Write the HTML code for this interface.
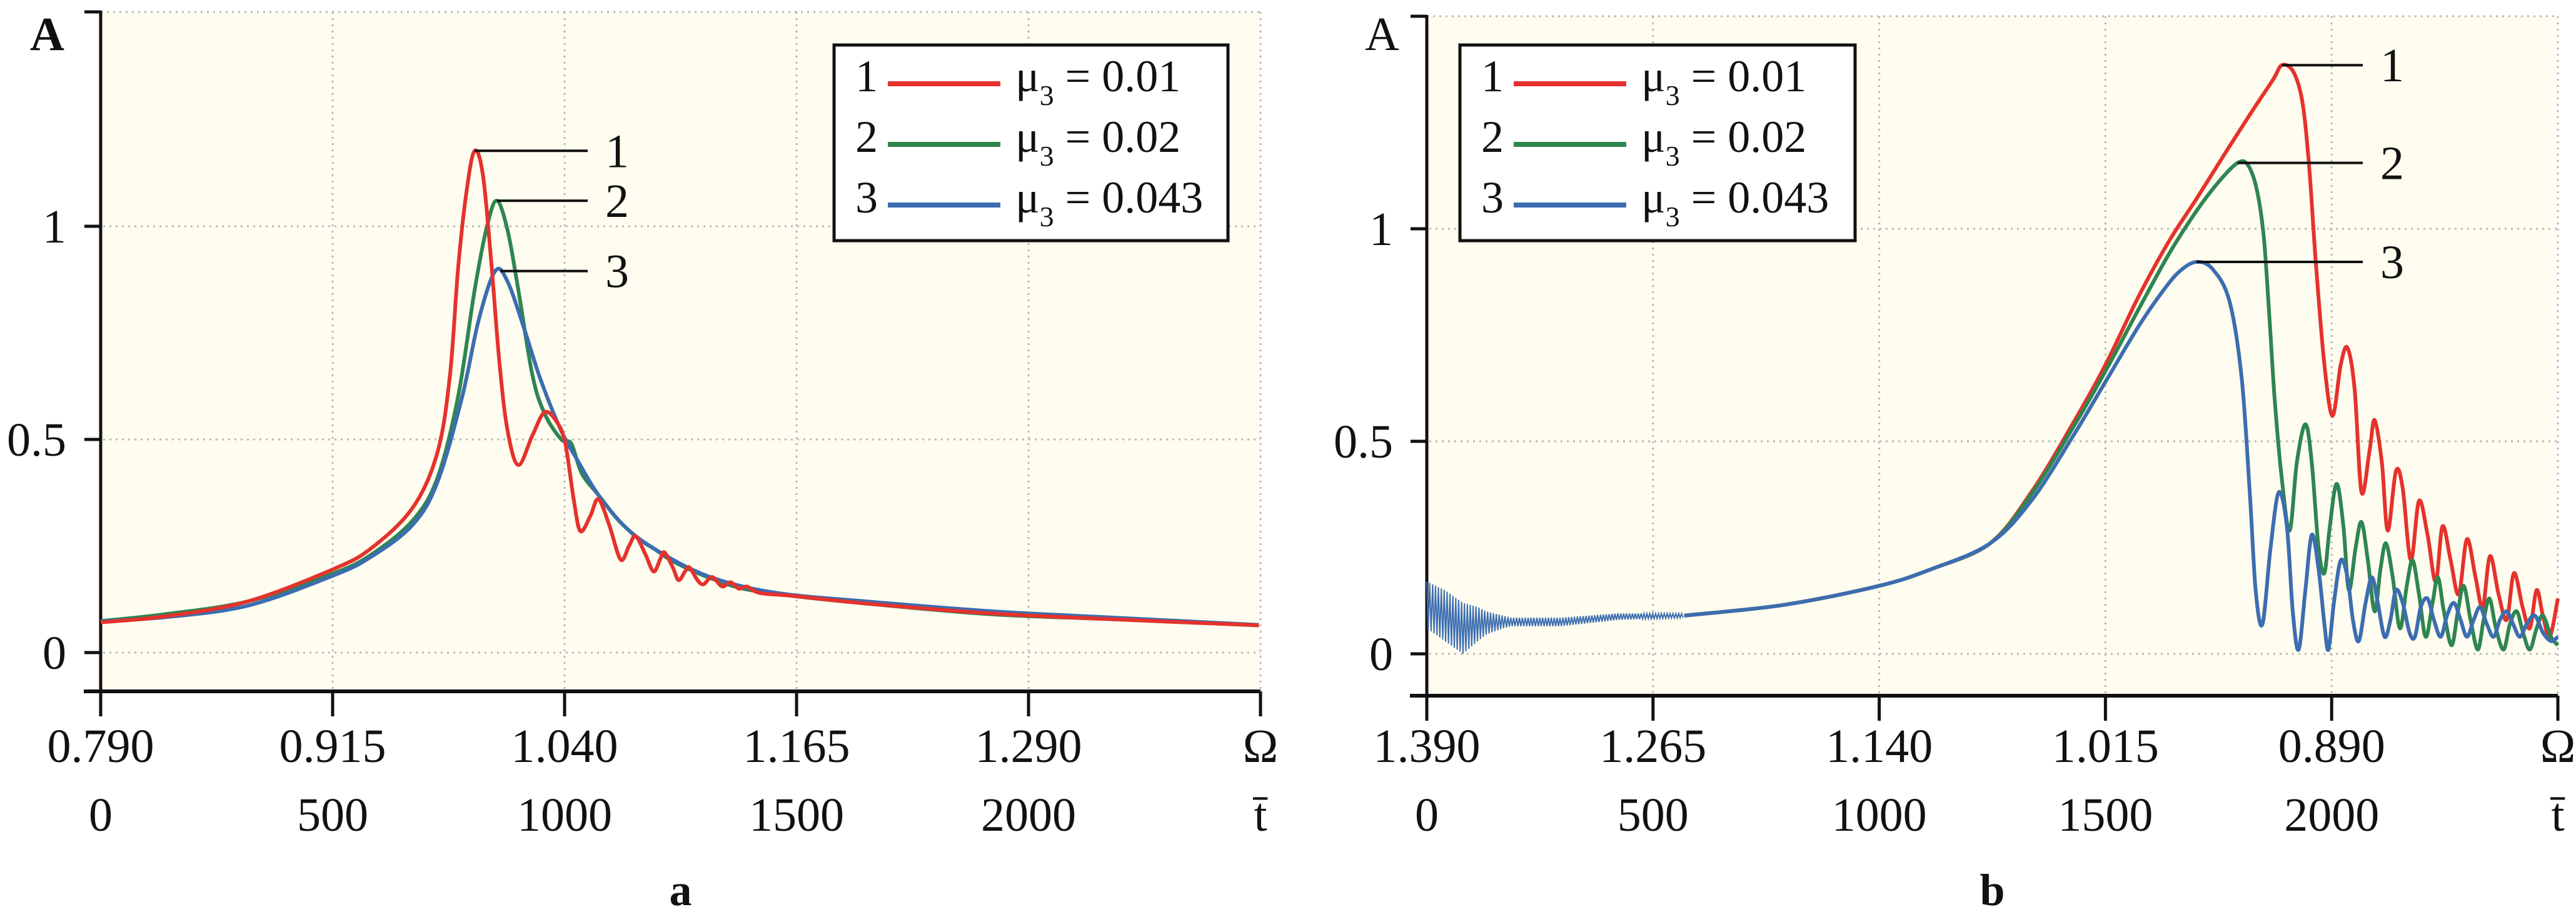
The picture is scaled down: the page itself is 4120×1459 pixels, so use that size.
<!DOCTYPE html>
<html><head><meta charset="utf-8">
<style>
html,body{margin:0;padding:0;background:#fff;}
svg{display:block;font-family:"Liberation Serif","DejaVu Serif",serif;}
</style></head>
<body>
<svg id="fig" width="4120" height="1459" viewBox="0 0 4120 1459" xmlns="http://www.w3.org/2000/svg">
<g id="pa"></g>
<g id="pb"></g>
</svg>
<script>
// ---------- Panel a data (x in Omega) ----------
const aXTicks = ["0.790","0.915","1.040","1.165","1.290"];
const aTTicks = ["0","500","1000","1500","2000"];
const yTicks = [0,0.5,1];
const yTickLabels = ["0","0.5","1"];
const legendLabels = ["0.01","0.02","0.043"];
const aRedX = [0.7900,0.8247,0.8692,0.9150,0.9359,0.9582,0.9715,0.9782,0.9826,0.9871,0.9915,0.9960,1.0004,1.0049,1.0093,1.0151,1.0227,1.0293,1.0360,1.0404,1.0449,1.0485,1.0538,1.0582,1.0640,1.0702,1.0747,1.0783,1.0836,1.0880,1.0916,1.0938,1.0983,1.1014,1.1049,1.1072,1.1116,1.1147,1.1183,1.1205,1.1250,1.1294,1.1339,1.1383,1.1450,1.1628,1.2028,1.2695,1.3363,1.4141];
const aRedY = [0.071,0.085,0.12,0.195,0.245,0.34,0.47,0.65,0.90,1.08,1.177,1.12,0.92,0.68,0.52,0.44,0.51,0.564,0.54,0.49,0.36,0.285,0.32,0.36,0.30,0.218,0.25,0.273,0.23,0.19,0.22,0.235,0.20,0.17,0.19,0.20,0.17,0.16,0.175,0.175,0.155,0.165,0.15,0.155,0.14,0.133,0.115,0.092,0.078,0.064];
const aGreenX = [0.7900,0.8247,0.8692,0.9150,0.9359,0.9582,0.9715,0.9826,0.9915,0.9982,1.0035,1.0093,1.0151,1.0227,1.0293,1.0382,1.0436,1.0493,1.0582,1.0671,1.0738,1.0805,1.0894,1.0961,1.1049,1.1183,1.1361,1.1628,1.2028,1.2695,1.3363,1.4141];
const aGreenY = [0.074,0.09,0.12,0.185,0.23,0.31,0.41,0.60,0.85,1.0,1.06,0.99,0.85,0.65,0.56,0.50,0.49,0.42,0.37,0.32,0.29,0.265,0.24,0.22,0.20,0.175,0.15,0.133,0.115,0.09,0.078,0.064];
const aBlueX = [0.7900,0.8247,0.8692,0.9150,0.9359,0.9582,0.9715,0.9848,0.9937,1.0026,1.0093,1.0182,1.0271,1.0382,1.0471,1.0582,1.0738,1.0916,1.1138,1.1361,1.1628,1.2028,1.2695,1.3363,1.4141];
const aBlueY = [0.073,0.083,0.11,0.18,0.225,0.30,0.40,0.60,0.78,0.895,0.87,0.76,0.64,0.52,0.45,0.37,0.29,0.235,0.185,0.155,0.135,0.12,0.097,0.082,0.065];

// ---------- Panel b data (x in t-bar) ----------
const bXTicks = ["1.390","1.265","1.140","1.015","0.890"];
const bTTicks = ["0","500","1000","1500","2000"];
const bCommonX = [569,788,1000,1117,1245];
const bCommonY = [0.09,0.115,0.16,0.2,0.26];
const bRedX = [1336,1427,1500,1573,1640,1701,1760,1820,1870,1890,1915,1935,1950,1965,1984,2002,2020,2035,2051,2066,2084,2095,2111,2124,2142,2157,2175,2193,2212,2230,2245,2263,2281,2299,2318,2334,2350,2369,2387,2403,2422,2438,2453,2467,2482,2500];
const bRedY = [0.38,0.54,0.68,0.84,0.97,1.07,1.17,1.27,1.35,1.385,1.37,1.30,1.15,0.92,0.68,0.56,0.68,0.72,0.62,0.38,0.48,0.55,0.45,0.29,0.43,0.39,0.22,0.36,0.28,0.17,0.30,0.22,0.14,0.27,0.18,0.11,0.23,0.14,0.08,0.19,0.11,0.06,0.15,0.09,0.04,0.13];
const bGreenX = [1336,1427,1500,1573,1640,1700,1750,1792,1815,1835,1850,1862,1874,1889,1907,1923,1942,1956,1971,1984,1996,2011,2026,2038,2053,2066,2080,2095,2108,2120,2135,2151,2166,2179,2193,2208,2223,2235,2248,2265,2279,2292,2307,2323,2336,2349,2363,2380,2394,2409,2423,2438,2453,2467,2485,2500];
const bGreenY = [0.375,0.53,0.665,0.81,0.94,1.04,1.11,1.155,1.15,1.09,0.98,0.8,0.6,0.42,0.29,0.45,0.54,0.45,0.25,0.19,0.30,0.40,0.30,0.15,0.25,0.31,0.22,0.10,0.20,0.26,0.18,0.06,0.16,0.22,0.14,0.04,0.12,0.18,0.10,0.02,0.10,0.16,0.08,0.01,0.08,0.13,0.06,0.01,0.07,0.10,0.05,0.01,0.06,0.09,0.04,0.02];
const bBlueX = [1336,1427,1500,1573,1628,1664,1701,1737,1774,1801,1819,1832,1847,1865,1883,1901,1914,1927,1942,1956,1971,1984,1993,2005,2020,2035,2047,2060,2075,2089,2102,2117,2130,2142,2157,2172,2184,2197,2212,2226,2241,2255,2270,2285,2299,2314,2328,2343,2358,2372,2387,2401,2416,2431,2449,2467,2485,2500];
const bBlueY = [0.36,0.51,0.64,0.77,0.855,0.9,0.922,0.905,0.83,0.65,0.38,0.15,0.07,0.25,0.38,0.3,0.1,0.01,0.15,0.28,0.2,0.07,0.01,0.12,0.22,0.18,0.08,0.03,0.12,0.18,0.12,0.04,0.08,0.15,0.12,0.05,0.04,0.11,0.13,0.08,0.04,0.09,0.12,0.08,0.04,0.08,0.11,0.07,0.04,0.08,0.1,0.07,0.04,0.07,0.09,0.05,0.03,0.04];
const bNoiseX = [0,40,80,113,131,168,186,296,423,569];
const bNoiseHi = [0.17,0.15,0.12,0.11,0.10,0.09,0.085,0.085,0.095,0.095];
const bNoiseLo = [0.06,0.03,0.0,0.03,0.045,0.06,0.065,0.065,0.08,0.085];

const NS="http://www.w3.org/2000/svg";
const RED="#e5322c", GREEN="#2e8550", BLUE="#3c6db0";
function mk(parent,tag,attrs,text){const e=document.createElementNS(NS,tag);for(const k in attrs)e.setAttribute(k,attrs[k]);if(text!==undefined)e.textContent=text;parent.appendChild(e);return e;}
function smooth(pts){let d="M"+pts[0][0].toFixed(1)+","+pts[0][1].toFixed(1);for(let i=0;i<pts.length-1;i++){const p0=pts[Math.max(0,i-1)],p1=pts[i],p2=pts[i+1],p3=pts[Math.min(pts.length-1,i+2)];const c1=[p1[0]+(p2[0]-p0[0])/6,p1[1]+(p2[1]-p0[1])/6],c2=[p2[0]-(p3[0]-p1[0])/6,p2[1]-(p3[1]-p1[1])/6];d+="C"+c1[0].toFixed(1)+","+c1[1].toFixed(1)+" "+c2[0].toFixed(1)+","+c2[1].toFixed(1)+" "+p2[0].toFixed(1)+","+p2[1].toFixed(1);}return d;}
function interp(xs,ys,x){for(let i=0;i<xs.length-1;i++){if(x<=xs[i+1]){const f=(x-xs[i])/(xs[i+1]-xs[i]);return ys[i]+f*(ys[i+1]-ys[i]);}}return ys[ys.length-1];}

function frame(g,L,R,T,y0,y1,bottom,xtickLabels,ttickLabels,panelLetter,aBold,aX,ylabX){
  mk(g,"rect",{x:L,y:T,width:R-L,height:bottom-T,fill:"#fffdf0"});
  const sy=v=>y0+(y1-y0)*v;
  const step=(R-L)/5;
  for(let i=1;i<=5;i++){const x=L+i*step;const ln=mk(g,"line",{x1:x,y1:T,x2:x,y2:bottom-4,stroke:"#b8b8b8","stroke-width":3,"stroke-dasharray":"3,7"});}
  for(const v of [0,0.5,1]){const ln=mk(g,"line",{x1:L+4,y1:sy(v),x2:R,y2:sy(v),stroke:"#b8b8b8","stroke-width":3,"stroke-dasharray":"3,7"});}
  mk(g,"line",{x1:L,y1:T,x2:R,y2:T,stroke:"#b8b8b8","stroke-width":3,"stroke-dasharray":"3,7"});
  const ya=mk(g,"line",{x1:L,y1:T-2,x2:L,y2:bottom+40,stroke:"#111","stroke-width":5});
  
  mk(g,"line",{x1:L-26,y1:T,x2:L,y2:T,stroke:"#111","stroke-width":5});
  const xa=mk(g,"line",{x1:L-27,y1:bottom,x2:R,y2:bottom,stroke:"#111","stroke-width":6});
  
  for(let i=0;i<=5;i++){const x=L+i*step;mk(g,"line",{x1:x,y1:bottom,x2:x,y2:bottom+40,stroke:"#111","stroke-width":5});}
  yTicks.forEach((v,i)=>{mk(g,"line",{x1:L-26,y1:sy(v),x2:L,y2:sy(v),stroke:"#111","stroke-width":5});
    const t=mk(g,"text",{x:ylabX,y:sy(v)+26,"font-size":76,"text-anchor":"end",fill:"#111"},yTickLabels[i]);
    });
  xtickLabels.forEach((s,i)=>{const t=mk(g,"text",{x:L+i*step,y:1219,"font-size":76,"text-anchor":"middle",fill:"#111"},s);
    });
  ttickLabels.forEach((s,i)=>{const t=mk(g,"text",{x:L+i*step,y:1329,"font-size":76,"text-anchor":"middle",fill:"#111"},s);
    });
  const om=mk(g,"text",{x:R,y:1219,"font-size":76,"text-anchor":"middle",fill:"#111"},"Ω");
  
  const tb=mk(g,"text",{x:R,y:1329,"font-size":76,"text-anchor":"middle",fill:"#111"},"t̄");
  
  const at=mk(g,"text",{x:aX,y:80,"font-size":76,"font-weight":aBold?"bold":"normal",fill:"#111"},"A");
  
  const pl=mk(g,"text",{x:(L+R)/2,y:1448,"font-size":72,"font-weight":"bold","text-anchor":"middle",fill:"#111"},panelLetter);
  
}
function legend(g,x,y,w,h){
  const r=mk(g,"rect",{x:x,y:y,width:w,height:h,fill:"#fff",stroke:"#111","stroke-width":5});
  
  const cols=[RED,GREEN,BLUE];
  for(let i=0;i<3;i++){const cy=y+50+i*97;
    const e=mk(g,"g",{});
    mk(e,"text",{x:x+34,y:cy+24,"font-size":72,fill:"#111"},String(i+1));
    mk(e,"line",{x1:x+86,y1:cy+12,x2:x+266,y2:cy+12,stroke:cols[i],"stroke-width":8});
    const t=mk(e,"text",{x:x+290,y:cy+24,"font-size":72,fill:"#111"});
    mk(t,"tspan",{},"μ");mk(t,"tspan",{dy:22,"font-size":46},"3");mk(t,"tspan",{dy:-22}," = "+legendLabels[i]);
  }
}
function leader(g,x1,y,x2,label){mk(g,"line",{x1:x1,y1:y,x2:x2,y2:y,stroke:"#111","stroke-width":4});
  const t=mk(g,"text",{x:x2+28,y:y+26,"font-size":76,fill:"#111"},label);}

// Panel a
(function(){
  const g=document.getElementById("pa");
  const L=161,R=2016,T=19,Y0=1044,Y1=362,B=1106;
  frame(g,L,R,T,Y0,Y1,B,aXTicks,aTTicks,"a",true,48,106);
  const sx=v=>L+(v-0.79)/0.625*(R-L), sy=v=>Y0+(Y1-Y0)*v;
  const series=[[aGreenX,aGreenY,GREEN,"series-mu-0.02"],[aBlueX,aBlueY,BLUE,"series-mu-0.043"],[aRedX,aRedY,RED,"series-mu-0.01"]];
  for(const [xs,ys,c,n] of series){const p=mk(g,"path",{d:smooth(xs.map((v,i)=>[sx(v),sy(ys[i])])),fill:"none",stroke:c,"stroke-width":6,"stroke-linejoin":"round"});
    }
  leader(g,sx(aRedX[aRedY.indexOf(Math.max(...aRedY))]),sy(Math.max(...aRedY)),940,"1");
  leader(g,sx(aGreenX[aGreenY.indexOf(Math.max(...aGreenY))]),sy(Math.max(...aGreenY)),940,"2");
  leader(g,sx(aBlueX[aBlueY.indexOf(Math.max(...aBlueY))])+8,sy(Math.max(...aBlueY)),940,"3");
  legend(g,1334,72,630,313);
})();
// Panel b
(function(){
  const g=document.getElementById("pb");
  const L=2282,R=4091,T=26,Y0=1046,Y1=366,B=1113;
  frame(g,L,R,T,Y0,Y1,B,bXTicks,bTTicks,"b",false,2183,2228);
  const sx=v=>L+v/2500*(R-L), sy=v=>Y0+(Y1-Y0)*v;
  let d="";let k=0;
  for(let t=0;t<=bNoiseX[bNoiseX.length-1];t+=3.2){const v=(k%2===0)?interp(bNoiseX,bNoiseHi,t):interp(bNoiseX,bNoiseLo,t);d+=(k===0?"M":"L")+sx(t).toFixed(1)+","+sy(v).toFixed(1);k++;}
  const nz=mk(g,"path",{d:d,fill:"none",stroke:BLUE,"stroke-width":2});
  
  const series=[[bRedX,bRedY,RED,"series-mu-0.01"],[bGreenX,bGreenY,GREEN,"series-mu-0.02"],[bBlueX,bBlueY,BLUE,"series-mu-0.043"]];
  for(const [xs,ys,c,n] of series){const X=bCommonX.concat(xs),Yv=bCommonY.concat(ys);
    const p=mk(g,"path",{d:smooth(X.map((v,i)=>[sx(v),sy(Yv[i])])),fill:"none",stroke:c,"stroke-width":6,"stroke-linejoin":"round"});
    }
  leader(g,sx(bRedX[bRedY.indexOf(Math.max(...bRedY))]),sy(Math.max(...bRedY)),3779,"1");
  leader(g,sx(bGreenX[bGreenY.indexOf(Math.max(...bGreenY))]),sy(Math.max(...bGreenY)),3779,"2");
  leader(g,sx(bBlueX[bBlueY.indexOf(Math.max(...bBlueY))]),sy(Math.max(...bBlueY)),3779,"3");
  legend(g,2335,72,632,313);
})();
</script>
</body></html>
